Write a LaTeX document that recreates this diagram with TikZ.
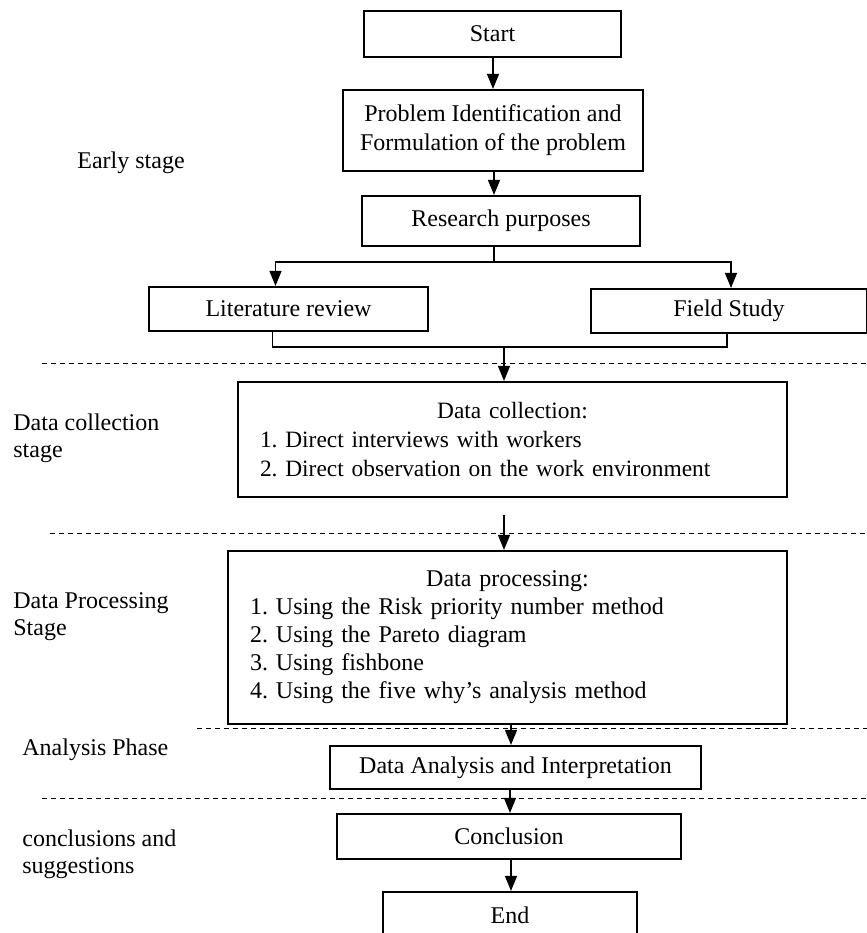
\documentclass[tikz,border=0pt]{standalone}
\usepackage{fontspec}
\setmainfont{Liberation Serif}
\usetikzlibrary{arrows.meta,positioning}

\begin{document}
\frenchspacing
\begin{tikzpicture}[
x=0.5pt,y=0.5pt,
box/.style={draw,line width=1.1pt,align=center,inner sep=2pt,font=\fontsize{12}{14.5}\selectfont},
listbox/.style={draw,line width=1.1pt,align=left,inner xsep=11pt,inner ysep=4pt},
stage/.style={anchor=base west,align=left,inner sep=0pt,font=\fontsize{12}{13.5}\selectfont},
arr/.style={-{Triangle[length=7.5pt,width=6pt]},line width=0.7pt},
link/.style={line width=0.7pt},
sep/.style={dash pattern=on 2.5pt off 2pt,line width=0.5pt}
]
\useasboundingbox (0,0) rectangle (867,-933);
% main flow
\node[box,minimum width=128.5pt,minimum height=23pt] (start) at (492.5,-34) {Start};
\node[box,minimum width=150pt,minimum height=40.5pt] (problem) at (493,-130.5) {Problem Identification and\\Formulation of the problem};
\node[box,minimum width=139pt,minimum height=25pt] (purpose) at (501,-221) {Research purposes};
\node[box,minimum width=139.5pt,minimum height=22pt] (lit) at (288.5,-309) {Literature review};
\node[box,minimum width=138pt,minimum height=22pt] (field) at (729,-311) {Field Study};
\node[listbox,minimum width=274.5pt,minimum height=57.5pt,text width=252.5pt,
  font=\fontsize{11.7}{14.5}\selectfont] (collect) at (512.5,-439.5)
  {\makebox[\linewidth]{Data collection:}\\1. Direct interviews with workers\\2. Direct observation on the work environment};
\node[listbox,minimum width=279.5pt,minimum height=86.5pt,text width=257.5pt,
  font=\fontsize{12}{14}\selectfont] (proc) at (507.5,-637.5)
  {\makebox[\linewidth]{Data processing:}\\1. Using the Risk priority number method\\2. Using the Pareto diagram\\3. Using fishbone\\4. Using the five why's analysis method};
\node[box,minimum width=185.5pt,minimum height=21.5pt] (analysis) at (515.5,-767.5) {Data Analysis and Interpretation};
\node[box,minimum width=172pt,minimum height=22.5pt] (concl) at (509,-836.5) {Conclusion};
\node[box,minimum width=127pt,minimum height=23pt] (end) at (510,-915) {End};
% stage labels (anchored on the last line)
\node[stage] (early) at (77,-168) {Early stage};
\node[stage] (collstage) at (13,-457) {Data collection\\stage};
\node[stage] (procstage) at (13,-635) {Data Processing\\Stage};
\node[stage] (anastage) at (22,-755) {Analysis Phase};
\node[stage] (conclstage) at (22,-873) {conclusions and\\suggestions};
% stage separators
\draw[sep] (42,-363) -- (867,-363);
\draw[sep] (50,-533) -- (867,-533);
\draw[sep] (197,-728) -- (867,-728);
\draw[sep] (42,-798) -- (867,-798);
% connectors
\coordinate (split) at (494,-262);
\coordinate (merge) at (504,-347);
\coordinate (procin) at (504,-515);
\draw[arr] (start.south -| 493,0) -- (problem.north -| 493,0);
\draw[arr] (problem.south -| 494,0) -- (purpose.north -| 494,0);
\draw[link] (purpose.south -| split) -- (split);
\draw[arr] (split) -| ([xshift=-6.5]lit.north);
\draw[arr] (split) -| ([xshift=1]field.north);
\draw[link] ([xshift=-8]lit.south) |- (merge) -| ([xshift=-1]field.south);
\draw[arr] (merge) -- (merge |- collect.north);
\draw[arr] (procin) -- (procin |- proc.north);
\draw[arr] (proc.south -| 511,0) -- (analysis.north -| 511,0);
\draw[arr] (analysis.south -| 510,0) -- (concl.north -| 510,0);
\draw[arr] (concl.south -| 511,0) -- (end.north -| 511,0);
\end{tikzpicture}
\end{document}
